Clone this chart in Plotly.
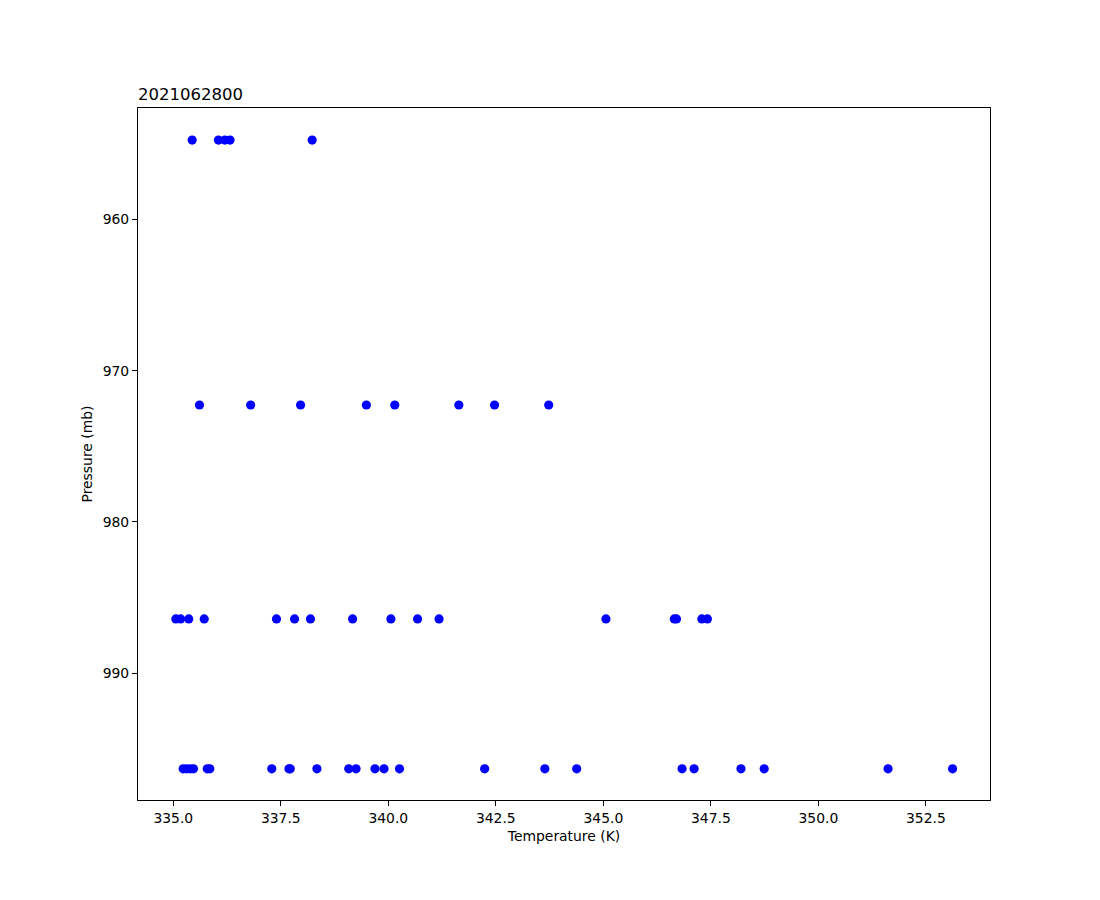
import plotly.graph_objects as go

title_text = "2021062800"
pressure_levels = [954.76, 972.27, 986.41, 996.32]

temps_955 = [335.44, 336.05, 336.20, 336.32, 338.23]
temps_972 = [335.61, 336.80, 337.96, 339.49, 340.15, 341.64, 342.47, 343.73]
temps_986 = [335.06, 335.17, 335.36, 335.72, 337.40, 337.82, 338.19, 339.17,
             340.06, 340.68, 341.18, 345.06, 346.65, 346.70, 347.29, 347.42]
temps_996 = [335.23, 335.31, 335.40, 335.47, 335.79, 335.85, 337.29, 337.69,
             337.72, 338.34, 339.08, 339.25, 339.69, 339.90, 340.26, 342.24,
             343.64, 344.38, 346.83, 347.11, 348.20, 348.74, 351.62, 353.12]

x_ticks = [335.0, 337.5, 340.0, 342.5, 345.0, 347.5, 350.0, 352.5]
y_ticks = [960, 970, 980, 990]

all_temps = [temps_955, temps_972, temps_986, temps_996]
xs, ys = [], []
for p, ts in zip(pressure_levels, all_temps):
    xs.extend(ts)
    ys.extend([p] * len(ts))

fig = go.Figure()
fig.add_trace(go.Scatter(
    x=xs, y=ys, mode="markers",
    marker=dict(color="#0000ff", size=9.2, line=dict(width=0)),
    showlegend=False,
))

font = dict(family="DejaVu Sans", size=13.9, color="black")

fig.update_layout(
    width=1100, height=900,
    margin=dict(l=130, r=118, t=100, b=108),
    paper_bgcolor="white", plot_bgcolor="white",
    font=font,
    annotations=[dict(
        text=title_text, xref="paper", yref="paper", x=0, y=1,
        xanchor="left", yanchor="bottom", showarrow=False,
        font=dict(family="DejaVu Sans", size=16.5, color="black"),
        xshift=-2, yshift=2,
    )],
)

axis_common = dict(
    showgrid=False, zeroline=False, showline=True, linecolor="black",
    linewidth=1.1, mirror=True, ticks="outside", ticklen=5, tickwidth=1.1,
    tickcolor="black", tickfont=font,
)

fig.update_xaxes(
    range=[334.18, 353.99], tickvals=x_ticks,
    ticktext=[f"{v:.1f}" for v in x_ticks],
    title=dict(text="Temperature (K)", font=font, standoff=6),
    **axis_common,
)
fig.update_yaxes(
    range=[998.38, 952.64], tickvals=y_ticks,
    ticktext=[str(v) for v in y_ticks],
    title=dict(text="Pressure (mb)", font=font, standoff=6),
    **axis_common,
)

fig.write_html("out.html")
